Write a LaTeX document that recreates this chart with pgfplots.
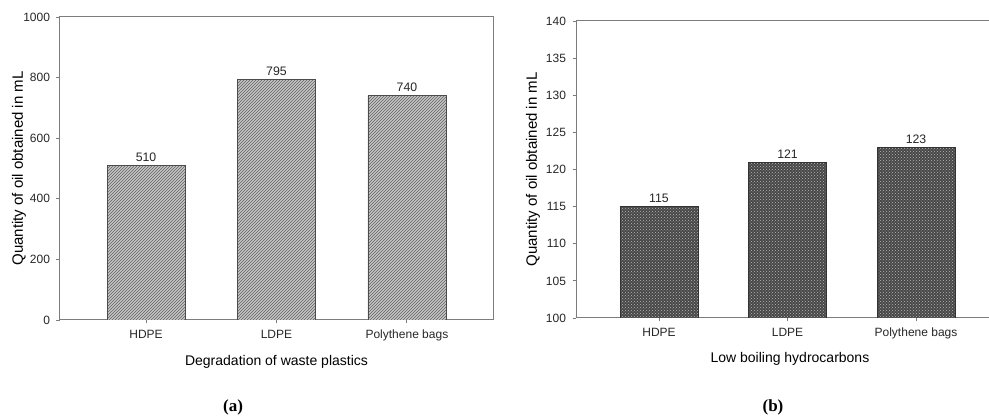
\documentclass[border=0pt]{standalone}
\usepackage{fontspec}
\setmainfont{Liberation Sans}
\newfontfamily\capfont{Liberation Serif}
\usepackage{pgfplots}
\pgfplotsset{compat=1.18}
\usetikzlibrary{patterns}
\definecolor{axgray}{RGB}{125,125,125}
\begin{document}
\begin{tikzpicture}[x=1pt,y=1pt]
\pgfplotsset{
  common/.style={
    scale only axis, anchor=south west, ybar, bar width=78pt,
    /pgf/number format/assume math mode=true,
    /pgf/number format/1000 sep={},
    axis line style={axgray, line width=1pt},
    tick style={axgray, line width=0.9pt},
    tick align=outside, major tick length=3.5pt,
    xtick pos=lower, ytick pos=left,
    xtick={0,1,2}, xticklabels={HDPE,LDPE,Polythene bags},
    ticklabel style={font=\fontsize{12}{14}\selectfont, text=black!85},
    xticklabel style={yshift=-3pt},
    yticklabel style={xshift=-3pt},
    every axis y label/.style={at={(axis description cs:0,0.5)}, rotate=90, anchor=center, yshift=41pt, font=\fontsize{15}{17}\selectfont},
    ylabel={Quantity of oil obtained in mL},
    nodes near coords,
    every node near coord/.append style={font=\fontsize{12.3}{14}\selectfont, text=black!85, anchor=south, yshift=0pt},
  },
}
\begin{axis}[common,
  at={(60pt,97pt)}, width=433pt, height=303pt,
  xmin=-0.66, xmax=2.66, ymin=0, ymax=1000, ytick={0,200,...,1000},
  every axis x label/.style={at={(axis description cs:0.5,0)}, anchor=center, yshift=-42pt, font=\fontsize{14}{16}\selectfont},
  xlabel={Degradation of waste plastics},
]
\addplot[draw=black!70, line width=0.8pt, fill=gray!45,
  postaction={pattern=north east lines, pattern color=black!62}]
  coordinates {(0,510) (1,795) (2,740)};
\end{axis}
\begin{axis}[common,
  at={(576pt,99pt)}, width=413pt, height=297pt,
  axis x line*=box, axis y line*=left,
  xtick pos=lower, ytick pos=left,
  xmin=-0.646, xmax=2.568, ymin=100, ymax=140, ytick={100,105,...,140},
  every axis y label/.style={at={(axis description cs:0,0.5)}, rotate=90, anchor=center, yshift=43pt, font=\fontsize{15}{17}\selectfont},
  every axis x label/.style={at={(axis description cs:0.518,0)}, anchor=center, yshift=-41pt, font=\fontsize{14}{16}\selectfont},
  xlabel={Low boiling hydrocarbons},
]
\addplot[draw=black!80, line width=0.8pt, fill=black!72,
  postaction={pattern=crosshatch dots, pattern color=gray!55}]
  coordinates {(0,115) (1,121) (2,123)};
\end{axis}
\node[font=\capfont\bfseries\fontsize{17}{20}\selectfont] at (233pt,10pt) {(a)};
\node[font=\capfont\bfseries\fontsize{17}{20}\selectfont] at (773pt,10pt) {(b)};
\pgfresetboundingbox
\path[use as bounding box] (0,0) rectangle (989pt,417pt);
\end{tikzpicture}
\end{document}
